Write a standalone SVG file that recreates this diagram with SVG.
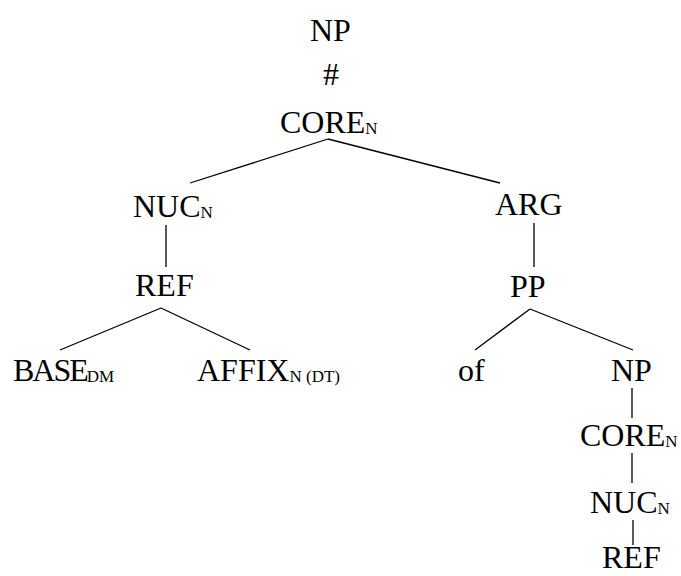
<svg xmlns="http://www.w3.org/2000/svg" width="681" height="576" viewBox="0 0 681 576">
<style>
.t{font-family:'Liberation Serif','DejaVu Serif','Times New Roman',Times,serif;font-size:32px;fill:#000}
.s{font-size:17px}
.c line{stroke:#000;stroke-width:1.3}
</style>
<rect width="681" height="576" fill="#fff"/>
<g class="c" id="connectors">
<line x1="328" y1="139" x2="190" y2="183"/>
<line x1="328" y1="139" x2="500" y2="183"/>
<line x1="166" y1="225" x2="166" y2="267"/>
<line x1="534" y1="223" x2="534" y2="267"/>
<line x1="161" y1="308" x2="60" y2="350"/>
<line x1="161" y1="308" x2="250" y2="350"/>
<line x1="530" y1="309" x2="475" y2="350"/>
<line x1="530" y1="309" x2="633" y2="350"/>
<line x1="632" y1="388" x2="632" y2="418"/>
<line x1="632" y1="453" x2="632" y2="483"/>
<line x1="633" y1="520" x2="633" y2="545"/>
</g>
<g id="np-top"><text class="t" x="310" y="41">NP</text></g>
<g id="hash"><text class="t" x="323" y="85">#</text></g>
<g id="core-top"><text class="t" x="280" y="133">CORE<tspan class="s" dy="1">N</tspan></text></g>
<g id="nuc-left"><text class="t" x="133" y="217">NUC<tspan class="s" dy="1">N</tspan></text></g>
<g id="arg"><text class="t" x="495" y="215">ARG</text></g>
<g id="ref-left"><text class="t" x="135" y="296">REF</text></g>
<g id="pp"><text class="t" x="510" y="297">PP</text></g>
<g id="base"><text class="t" x="13" y="381" letter-spacing="-2">BASE<tspan class="s" dy="1" letter-spacing="0">DM</tspan></text></g>
<g id="affix"><text class="t" x="197" y="381">AFFIX<tspan class="s" dy="1">N (DT)</tspan></text></g>
<g id="of"><text class="t" x="458" y="381">of</text></g>
<g id="np-low"><text class="t" x="611" y="381">NP</text></g>
<g id="core-low"><text class="t" x="580" y="446">CORE<tspan class="s" dy="1">N</tspan></text></g>
<g id="nuc-low"><text class="t" x="590" y="513">NUC<tspan class="s" dy="1">N</tspan></text></g>
<g id="ref-low"><text class="t" x="602" y="568">REF</text></g>
</svg>
